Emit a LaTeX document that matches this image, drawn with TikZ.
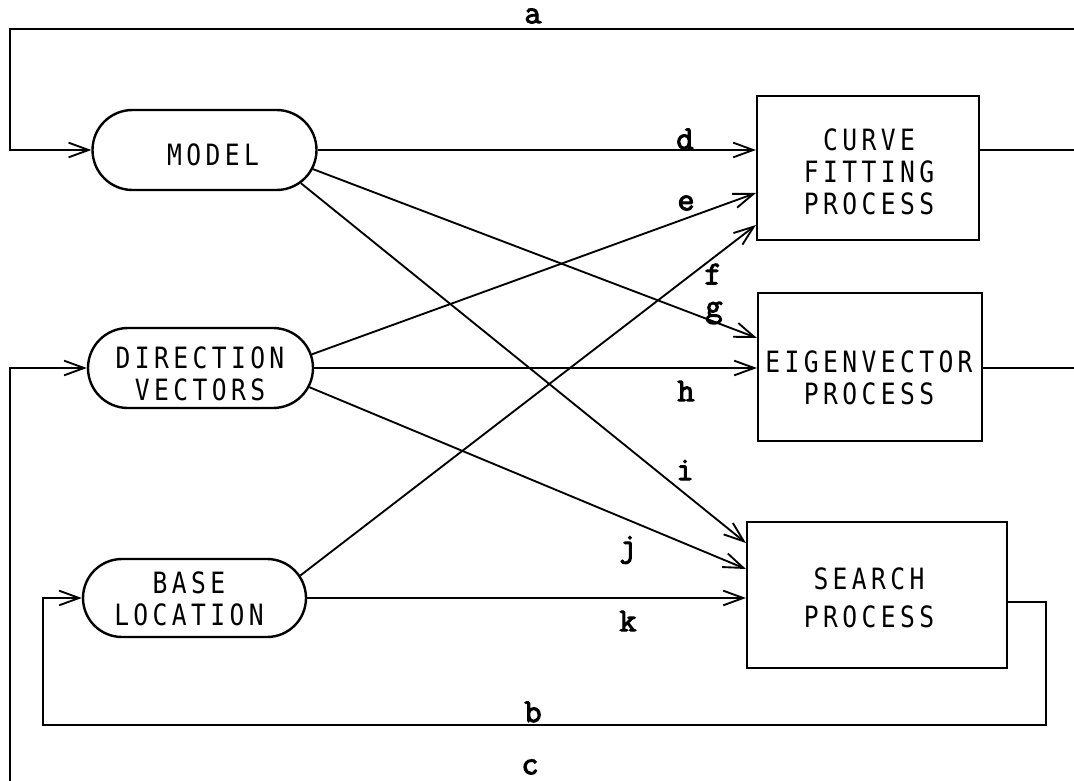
\documentclass[tikz,border=0pt]{standalone}
\usepackage{fontspec}
\usetikzlibrary{shapes.misc,arrows.meta,calc}
\newfontfamily\lettering[LetterSpace=15,FakeStretch=0.84]{DejaVu Sans Mono}
\newfontfamily\tagfont[FakeBold=3]{Latin Modern Mono}

\tikzset{
  link/.style={line width=1.4pt},
  arr/.style={link, -{Straight Barb[length=15pt,width=11pt]}},
  term/.style={draw, rounded rectangle, line width=1.8pt, inner sep=0pt},
  proc/.style={draw, rectangle, line width=1.6pt, inner sep=0pt},
  caption/.style={font=\lettering\fontsize{22}{24}\selectfont, align=center, inner sep=0pt},
  tag/.style={font=\tagfont\fontsize{25}{25}\selectfont, inner sep=0pt}
}

\begin{document}
\begin{tikzpicture}[x=0.75pt, y=-0.75pt]
\useasboundingbox (0,0) rectangle (1074,781);

% inputs (rounded terminals)
\node[term, minimum width=168pt, minimum height=60pt] (model) at (204.5,150) {};
\node[term, minimum width=168.75pt, minimum height=60pt] (dir) at (200.5,368) {};
\node[term, minimum width=167.25pt, minimum height=58.5pt] (base) at (194.5,598) {};
\node[caption] (modeltext) at (213,155) {MODEL};
\node[caption] (dirtext) at (200,374) {DIRECTION\\VECTORS};
\node[caption] (basetext) at (189,598.5) {BASE\\LOCATION};

% processes
\node[proc, minimum width=166.5pt, minimum height=108pt] (curve) at (868,168) {};
\node[proc, minimum width=168pt, minimum height=111pt] (eig) at (870,367) {};
\node[proc, minimum width=195pt, minimum height=109.5pt] (search) at (877,595) {};
\node[caption] (curvetext) at (869,171.5) {CURVE\\FITTING\\PROCESS};
\node[caption] (eigtext) at (869,377.5) {EIGENVECTOR\\PROCESS};
\node[caption, font=\lettering\fontsize{22}{28.5}\selectfont] (searchtext) at (869,597.5) {SEARCH\\PROCESS};

% feedback paths
\coordinate (aright) at (1074,29);
\coordinate (acorner) at (10,29);
\draw[arr] (aright) -- (acorner) |- (model.west);

\coordinate (cbottom) at (10,781);
\draw[arr] (cbottom) |- (dir.west);

\coordinate (bturn) at (1046,725);
\coordinate (bleft) at (43,725);
\draw[arr] ($(search.east)+(0,7)$) -| (bturn) -- (bleft) |- (base.west);

% process outputs
\coordinate (curveout) at (1074,150);
\coordinate (eigout) at (1074,368);
\draw[link] (curveout -| curve.east) -- (curveout);
\draw[link] (eigout -| eig.east) -- (eigout);

% data flows
\draw[arr] (model.east) -- (model.east -| curve.west);
\draw[arr] (dir.7) -- ($(curve.west)+(0,25)$);
\draw[arr] (base.12) -- ($(curve.west)+(0,57)$);
\draw[arr] (model.-10) -- ($(eig.west)+(0,-29)$);
\draw[arr] (dir.east) -- (dir.east -| eig.west);
\draw[arr] (model.-19) -- ($(search.west)+(0,-52)$);
\draw[arr] (dir.-10) -- ($(search.west)+(0,-26)$);
\draw[arr] (base.east) -- (base.east -| search.west);

% path labels
\node[tag] (la) at (533,16) {a};
\node[tag] (lb) at (533,712) {b};
\node[tag] (lc) at (530,767) {c};
\node[tag] (ld) at (685,139) {d};
\node[tag] (le) at (686,203) {e};
\node[tag] (lf) at (713,274) {f};
\node[tag] (lg) at (714,313) {g};
\node[tag] (lh) at (686,391) {h};
\node[tag] (li) at (685,470) {i};
\node[tag] (lj) at (628,550) {j};
\node[tag] (lk) at (628,621) {k};
\end{tikzpicture}
\end{document}
